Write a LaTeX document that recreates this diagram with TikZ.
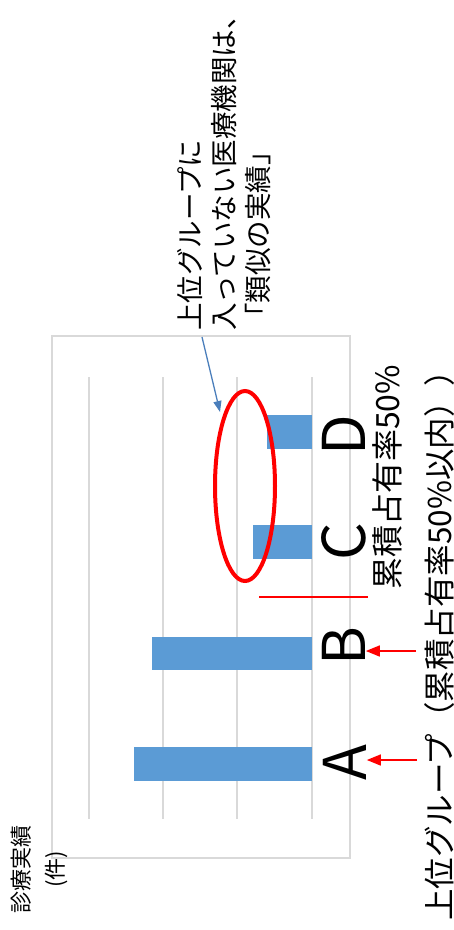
\documentclass[tikz,border=0pt]{standalone}
\usepackage{fontspec}
\newfontfamily\jp{Noto Sans CJK JP}
\usetikzlibrary{arrows.meta}
\definecolor{barblue}{HTML}{5B9BD5}
\definecolor{gridgray}{HTML}{D9D9D9}
\definecolor{arrowblue}{HTML}{4A7EBB}
\definecolor{markred}{HTML}{FF0000}
\tikzset{
  bar/.style={fill=barblue, draw=none},
  gridline/.style={draw=gridgray, line width=2.5pt},
  framebox/.style={draw=gridgray, line width=2pt},
  rtext/.style={rotate=90, inner sep=0pt, font=\jp},
  letter/.style={rotate=90, inner sep=0pt, font=\jp\fontsize{59}{60}\selectfont},
  redarrow/.style={draw=markred, line width=1.5pt, -{Triangle[length=14pt,width=11pt]}},
  bluearrow/.style={draw=arrowblue, line width=1.3pt, -{Triangle[length=11pt,width=8pt]}},
}
\begin{document}
\begin{tikzpicture}[x=1pt,y=-1pt]
\useasboundingbox (0,0) rectangle (454,930);
% chart frame
\draw[framebox] (52,336) rectangle (350,858);
% grid lines
\foreach \gx in {89,163,237,312} \draw[gridline] (\gx,377) -- (\gx,819);
% bars
\fill[bar] (134,747) rectangle (312,781);
\fill[bar] (152,637) rectangle (312,670);
\fill[bar] (253,525) rectangle (312,559);
\fill[bar] (267,415) rectangle (312,449);
% category letters
\node[letter] (A) at (345,763) {A};
\node[letter] (B) at (344,646) {B};
\node[letter] (C) at (344,542) {C};
\node[letter] (D) at (344,435) {D};
% red ellipse
\draw[draw=markred, line width=4pt] (245,486) ellipse [x radius=30, y radius=95];
\coordinate (elltop) at (220,412);
% red separator line
\coordinate (sepL) at (259,597);
\coordinate (sepR) at (368,597);
\draw[draw=markred, line width=1.5pt] (sepL) -- (sepR);
% top annotation
\node[rtext, anchor=north west, align=left, font=\jp\fontsize{27.5}{34}\selectfont] (note) at (177,331)
  {上位グループに\\入っていない医療機関は、\\「類似の実績」};
\coordinate (notefoot) at (202,337);
\draw[bluearrow] (notefoot) -- (elltop);
% axis label
\node[rtext, align=center, font=\jp\fontsize{22}{34}\selectfont] (axis) at (39,869) {診療実績\\(件)};
% cumulative share label
\node[rtext, anchor=west, font=\jp\fontsize{32}{34}\selectfont] (cum) at (387,590) {累積占有率50\%};
% bottom label
\node[rtext, anchor=west, font=\jp\fontsize{31.5}{34}\selectfont] (toplabel) at (440,921) {上位グループ（累積占有率50\%以内））};
% red arrows
\coordinate (arrB) at (416,651);
\coordinate (arrA) at (417,760);
\draw[redarrow] (arrB) -- (arrB -| B.south);
\draw[redarrow] (arrA) -- (arrA -| A.south);
\end{tikzpicture}
\end{document}
